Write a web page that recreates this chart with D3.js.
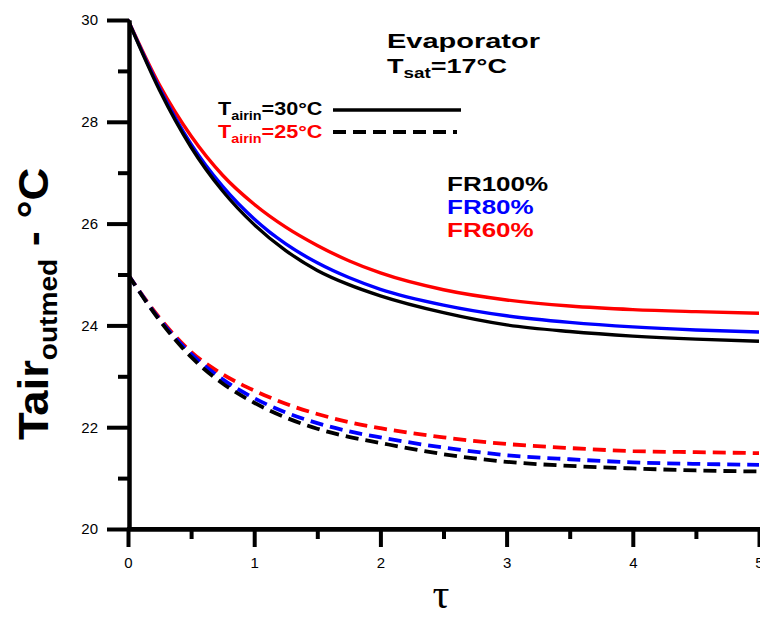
<!DOCTYPE html>
<html><head><meta charset="utf-8">
<script src="https://cdn.jsdelivr.net/npm/d3@7"></script>
<style>body{margin:0;background:#fff;overflow:hidden}</style>
</head><body>
<svg id="c" width="760" height="617"></svg>
<script>
// ---- data ----
const tau = [0, 0.25, 0.5, 0.75, 1, 1.25, 1.5, 1.75, 2, 2.5, 3, 3.5, 4, 4.5, 5];
// Tairin = 30 °C (solid)
const t30_FR100 = [30, 28.62, 27.50, 26.64, 25.98, 25.47, 25.08, 24.80, 24.58, 24.25, 24.01, 23.88, 23.79, 23.73, 23.69];
const t30_FR80  = [30, 28.66, 27.56, 26.73, 26.09, 25.60, 25.23, 24.94, 24.71, 24.40, 24.19, 24.06, 23.97, 23.91, 23.87];
const t30_FR60  = [30, 28.72, 27.72, 26.95, 26.38, 25.93, 25.57, 25.27, 25.03, 24.70, 24.50, 24.38, 24.31, 24.27, 24.24];
// Tairin = 25 °C (dashed)
const t25_FR100 = [25, 24.10, 23.38, 22.86, 22.48, 22.19, 21.97, 21.81, 21.69, 21.47, 21.32, 21.24, 21.19, 21.15, 21.13];
const t25_FR80  = [25, 24.12, 23.44, 22.94, 22.57, 22.29, 22.08, 21.92, 21.80, 21.60, 21.45, 21.37, 21.31, 21.28, 21.26];
const t25_FR60  = [25, 24.15, 23.48, 23.04, 22.72, 22.46, 22.26, 22.10, 21.98, 21.80, 21.67, 21.59, 21.53, 21.51, 21.49];
const yMajor = [20, 22, 24, 26, 28, 30];
const yMinor = [21, 23, 25, 27, 29];
const xMajor = [0, 1, 2, 3, 4, 5];
const xMinor = [0.5, 1.5, 2.5, 3.5, 4.5];
const frLabels = ["FR100%", "FR80%", "FR60%"];
const frColors = ["#000000", "#0000ff", "#ff0000"];

const series = [
  {v: t30_FR60, c: "#ff0000", d: false},
  {v: t30_FR80, c: "#0000ff", d: false},
  {v: t30_FR100, c: "#000000", d: false},
  {v: t25_FR60, c: "#ff0000", d: true},
  {v: t25_FR80, c: "#0000ff", d: true},
  {v: t25_FR100, c: "#000000", d: true}
];

const svg = d3.select("#c");
const x = d3.scaleLinear().domain([0, 5]).range([128, 759]);
const y = d3.scaleLinear().domain([20, 30]).range([529, 20]);
const sans = "'Liberation Sans', Arial, sans-serif";

// curves
svg.append("defs").append("clipPath").attr("id", "clip")
  .append("rect").attr("x", 128).attr("y", 0).attr("width", 640).attr("height", 529);
const line = d3.line().x((d, i) => x(tau[i])).y(d => y(d)).curve(d3.curveMonotoneX);
const g = svg.append("g").attr("clip-path", "url(#clip)");
series.forEach(s => {
  g.append("path").datum(s.v).attr("d", line)
    .attr("fill", "none").attr("stroke", s.c)
    .attr("stroke-width", s.d ? 3.8 : 3.4)
    .attr("stroke-dasharray", s.d ? "13,7" : null);
});

// axes
function styleAxis(sel) {
  sel.select(".domain").attr("stroke", "#000").attr("stroke-width", 4);
  sel.selectAll(".tick line").attr("stroke", "#000").attr("stroke-width", 4);
  sel.selectAll("text").attr("font-family", sans).attr("font-size", 15).attr("fill", "#000");
}
const yAx = svg.append("g").attr("transform", "translate(129,0)")
  .call(d3.axisLeft(y).tickValues(yMajor).tickSize(22).tickSizeOuter(0).tickPadding(9).tickFormat(d3.format("d")));
styleAxis(yAx);
const yAxm = svg.append("g").attr("transform", "translate(129,0)")
  .call(d3.axisLeft(y).tickValues(yMinor).tickSize(11).tickSizeOuter(0).tickFormat(""));
styleAxis(yAxm);
const xAx = svg.append("g").attr("transform", "translate(0,529)")
  .call(d3.axisBottom(x).tickValues(xMajor).tickSize(18).tickSizeOuter(0).tickPadding(10).tickFormat(d3.format("d")));
styleAxis(xAx);
const xAxm = svg.append("g").attr("transform", "translate(0,529)")
  .call(d3.axisBottom(x).tickValues(xMinor).tickSize(10).tickSizeOuter(0).tickFormat(""));
styleAxis(xAxm);
svg.append("line").attr("x1", 127).attr("x2", 760).attr("y1", 529).attr("y2", 529)
  .attr("stroke", "#000").attr("stroke-width", 4);

// axis titles
svg.append("text").attr("x", 441).attr("y", 608).attr("text-anchor", "middle")
  .attr("font-family", "'Liberation Serif', 'Times New Roman', serif").attr("font-size", 42).text("τ");

const yt = svg.append("text").attr("transform", "translate(48,440) rotate(-90) scale(1.08,1)")
  .attr("font-family", sans).attr("font-weight", "bold").attr("font-size", 42);
yt.append("tspan").text("Tair");
yt.append("tspan").attr("font-size", 26).attr("dy", 9).text("outmed");
yt.append("tspan").attr("dy", -9).text(" - °C");

// annotations
function hText(x0, y0, sx, parts, color) {
  const t = svg.append("text").attr("transform", `translate(${x0},${y0}) scale(${sx},1)`)
    .attr("font-family", sans).attr("font-weight", "bold").attr("fill", color);
  parts.forEach(p => t.append("tspan").attr("font-size", p[1]).attr("dy", p[2] || 0).text(p[0]));
  return t;
}
hText(387, 48, 1.38, [["Evaporator", 21]], "#000");
hText(387, 73, 1.35, [["T", 20], ["sat", 14, 5], ["=17°C", 20, -5]], "#000");
hText(218, 115, 1.2, [["T", 18], ["airin", 12, 5], ["=30°C", 18, -5]], "#000");
hText(218, 138, 1.2, [["T", 18], ["airin", 12, 5], ["=25°C", 18, -5]], "#ff0000");
svg.append("line").attr("x1", 333).attr("x2", 461).attr("y1", 110).attr("y2", 110)
  .attr("stroke", "#000").attr("stroke-width", 3.4);
svg.append("line").attr("x1", 333).attr("x2", 457).attr("y1", 132).attr("y2", 132)
  .attr("stroke", "#000").attr("stroke-width", 3.8).attr("stroke-dasharray", "13,7");

frLabels.forEach((l, i) => hText(447, 191 + i * 23, 1.3, [[l, 20]], frColors[i]));
</script>
</body></html>
